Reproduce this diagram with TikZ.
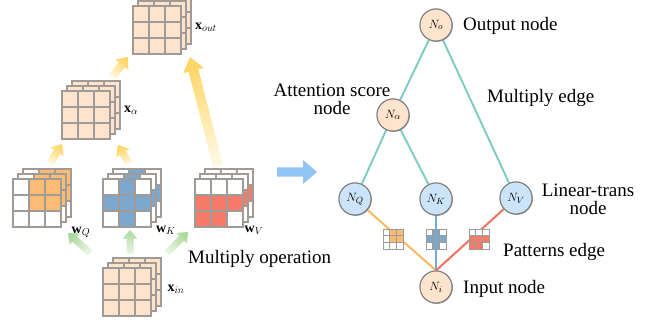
\documentclass[tikz,border=0pt]{standalone}
\usepackage{fontspec}
\setmainfont{Liberation Serif}
\usetikzlibrary{calc,shadows}
\definecolor{peach}{RGB}{254,228,204}
\definecolor{nodeblue}{RGB}{204,228,250}
\definecolor{nodegray}{RGB}{125,125,125}
\definecolor{gridgray}{RGB}{160,155,150}
\definecolor{tealedge}{RGB}{125,203,193}
\definecolor{oedge}{RGB}{250,185,100}
\definecolor{bedge}{RGB}{115,170,215}
\definecolor{redge}{RGB}{240,115,95}
\definecolor{ocell}{RGB}{252,188,115}
\definecolor{bcell}{RGB}{125,168,205}
\definecolor{rcell}{RGB}{246,123,104}
\definecolor{yarrow}{RGB}{255,213,100}
\definecolor{yfade}{RGB}{255,248,225}
\definecolor{garrow}{RGB}{172,218,158}
\definecolor{gfade}{RGB}{235,246,230}
\definecolor{barrow}{RGB}{145,197,245}
% one 3x3 layer: x, y (top-left), cell size, colour, pattern
\newcommand\gridlayer[5]{%
  \foreach \v [count=\i from 0] in {#5} {%
    \pgfmathtruncatemacro\cc{mod(\i,3)}%
    \pgfmathtruncatemacro\rr{floor(\i/3)}%
    \ifnum\v=1\def\fc{#4}\else\def\fc{white}\fi
    \filldraw[fill=\fc, draw=gridgray, line width={#3*0.07pt}] ({#1+\cc*#3},{#2+\rr*#3}) rectangle ++(#3,#3);
  }%
}
\newcommand\gridstack[4]{%
  \gridlayer{#1+10}{#2-10}{16}{#3}{#4}%
  \gridlayer{#1+5}{#2-5}{16}{#3}{#4}%
  \gridlayer{#1}{#2}{16}{#3}{#4}%
}
% fat arrow: tail, tip, shaft half width, head half width, head length, fill options
\newcommand\fatarrow[6]{%
  \coordinate (fan) at ($(#2)!#5pt!(#1)$);
  \path[#6] ($(#1)!#3pt!90:(#2)$) -- ($(fan)!#3pt!90:(#2)$) -- ($(fan)!#4pt!90:(#2)$) -- (#2)
    -- ($(fan)!#4pt!-90:(#2)$) -- ($(fan)!#3pt!-90:(#2)$) -- ($(#1)!#3pt!-90:(#2)$) -- cycle;
}
\begin{document}
\begin{tikzpicture}[x=1pt,y=-1pt,
  gnode/.style={circle, draw=nodegray, line width=1pt, minimum size=32pt, inner sep=0pt,
    font=\fontsize{12.5}{14}\selectfont,
    drop shadow={shadow xshift=0.8pt, shadow yshift=-0.8pt, opacity=0.35, fill=black!60}},
  onode/.style={gnode, fill=peach},
  bnode/.style={gnode, fill=nodeblue},
  tedge/.style={draw=tealedge, line width=1.9pt},
  pedge/.style={line width=2pt},
  lbl/.style={font=\fontsize{19}{18}\selectfont, inner sep=0pt},
  mlbl/.style={font=\fontsize{14}{16}\selectfont, inner sep=0pt},
  yshade/.style={shade, top color=yarrow, bottom color=yfade, shading angle=#1},
  gshade/.style={shade, top color=garrow, bottom color=gfade, shading angle=#1},
]
\clip (0,0) rectangle (656,323);
\fill[white] (0,0) rectangle (656,323);

% ---------- left: stacks ----------
\gridstack{133}{6}{peach}{1,1,1,1,1,1,1,1,1}
\gridstack{62}{91}{peach}{1,1,1,1,1,1,1,1,1}
\gridstack{13}{179}{ocell}{0,1,1,0,1,1,0,0,0}
\gridstack{103}{179}{bcell}{0,1,0,1,1,1,0,1,0}
\gridstack{195}{179}{rcell}{0,0,0,1,1,1,1,1,0}
\gridstack{103}{268}{peach}{1,1,1,1,1,1,1,1,1}

\node[mlbl] (lxout) at (206,27) {$\mathbf{x}_{out}$};
\node[mlbl] (lxa) at (131,110) {$\mathbf{x}_{\alpha}$};
\node[mlbl] (lwq) at (81,232) {$\mathbf{w}_{Q}$};
\node[mlbl] (lwk) at (166,230) {$\mathbf{w}_{K}$};
\node[mlbl] (lwv) at (254,230) {$\mathbf{w}_{V}$};
\node[mlbl] (lxin) at (176,289) {$\mathbf{x}_{in}$};
\node[lbl, anchor=base west] (tmo) at (188,263) {Multiply operation};

% arrow end points
\coordinate (g1t) at (90,253); \coordinate (g1h) at (68,233);
\coordinate (g2t) at (130,254); \coordinate (g2h) at (130,230);
\coordinate (g3t) at (167,253); \coordinate (g3h) at (188,232);
\coordinate (y1t) at (50,163); \coordinate (y1h) at (62,144);
\coordinate (y2t) at (129,163); \coordinate (y2h) at (118,145);
\coordinate (y3t) at (112,77); \coordinate (y3h) at (128,57);
\coordinate (y4t) at (218,166); \coordinate (y4h) at (190,57);
\coordinate (bt) at (277,172); \coordinate (bh) at (317,172);

\fatarrow{g1t}{g1h}{3.5}{7.5}{9}{gshade=47.7}
\fatarrow{g2t}{g2h}{3.5}{7.5}{9}{gshade=0}
\fatarrow{g3t}{g3h}{3.5}{7.5}{9}{gshade=-45}
\fatarrow{y1t}{y1h}{3.8}{8}{9.5}{yshade=-33.7}
\fatarrow{y2t}{y2h}{3.8}{8}{9.5}{yshade=32.9}
\fatarrow{y3t}{y3h}{4}{8.5}{10}{yshade=-41.6}
\fatarrow{y4t}{y4h}{5}{10.5}{14}{yshade=14.5}
\fatarrow{bt}{bh}{4.7}{12}{14}{fill=barrow}

% ---------- right: graph ----------
\node[onode] (No) at (436,25) {$N_o$};
\node[onode] (Na) at (393,115) {$N_\alpha$};
\node[bnode] (NQ) at (355,199) {$N_Q$};
\node[bnode] (NK) at (436,199) {$N_K$};
\node[bnode] (NV) at (516,198) {$N_V$};
\node[onode] (Ni) at (436,287) {$N_i$};

\draw[tedge] (No) -- (Na);
\draw[tedge] (No) -- (NV);
\draw[tedge] (Na) -- (NQ);
\draw[tedge] (Na) -- (NK);
\draw[pedge, draw=oedge] (NQ) -- (Ni.north);
\draw[pedge, draw=bedge] (NK) -- (Ni.north);
\draw[pedge, draw=redge] (NV) -- (Ni.north);

\gridlayer{393-10}{239-10}{6.67}{ocell}{0,1,1,0,1,1,0,0,0}
\gridlayer{436-10}{239-10}{6.67}{bcell}{0,1,0,1,1,1,0,1,0}
\gridlayer{479-10}{239-10}{6.67}{rcell}{0,0,0,1,1,1,1,1,0}

\node[onode] at (No) {$N_o$};
\node[onode] at (Na) {$N_\alpha$};
\node[bnode] at (NQ) {$N_Q$};
\node[bnode] at (NK) {$N_K$};
\node[bnode] at (NV) {$N_V$};
\node[onode] at (Ni) {$N_i$};

\node[lbl, anchor=base west] (tout) at (463,31) {Output node};
\node[lbl, align=center] (tatt) at (332,99) {Attention score\\node};
\node[lbl, anchor=base west] (tme) at (487,103) {Multiply edge};
\node[lbl, align=center] (tlin) at (588,199) {Linear-trans\\node};
\node[lbl, anchor=base west] (tpe) at (503,257) {Patterns edge};
\node[lbl, anchor=base west] (tin) at (463,293) {Input node};
\end{tikzpicture}
\end{document}
